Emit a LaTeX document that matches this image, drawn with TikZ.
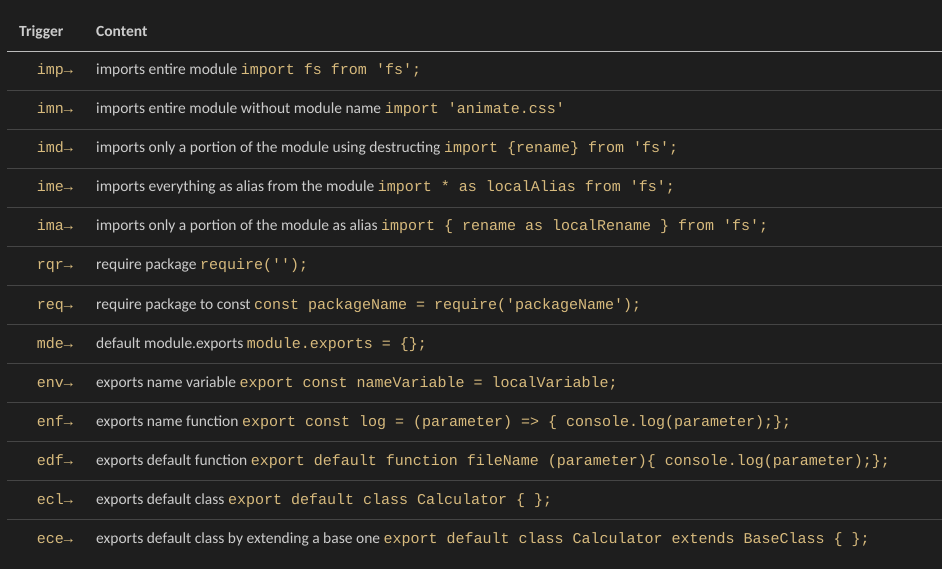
\documentclass[tikz,border=0pt]{standalone}
\usepackage{fontspec}
\setmainfont{Carlito}
\setmonofont{Liberation Mono}
\definecolor{bg}{HTML}{1E1E1E}
\definecolor{txt}{HTML}{CCCCCC}
\definecolor{code}{HTML}{D7BA7D}
\definecolor{sep}{HTML}{454545}
\definecolor{hdr}{HTML}{BBBBBB}
\newcommand{\cd}[1]{{\ttfamily\fontsize{15}{15}\selectfont\color{code}#1}}
\begin{document}
\begin{tikzpicture}[x=1pt,y=1pt,
  trig/.style={anchor=base east,inner sep=0pt,text=code,font=\ttfamily\fontsize{15}{15}\selectfont},
  cont/.style={anchor=base west,inner sep=0pt,text=txt,font=\fontsize{15.5}{16}\selectfont},
  head/.style={anchor=base west,inner sep=0pt,text=txt,font=\bfseries\fontsize{15.5}{16}\selectfont}]
\fill[bg] (0,0) rectangle (942,-569);
\useasboundingbox (0,0) rectangle (942,-569);
\node[head] (h1) at (19,-37) {Trigger};
\node[head] (h2) at (96,-37) {Content};
\draw[hdr,line width=1pt] (7,-51.5) -- (942,-51.5);
\foreach \i in {1,...,12} \draw[sep,line width=1pt] (7,{-90.5-39*(\i-1)}) -- (942,{-90.5-39*(\i-1)});
\foreach \t/\c [count=\i] in {
 imp/{imports entire module \cd{import fs from 'fs';}},
 imn/{imports entire module without module name \cd{import 'animate.css'}},
 imd/{imports only a portion of the module using destructing \cd{import \{rename\} from 'fs';}},
 ime/{imports everything as alias from the module \cd{import * as localAlias from 'fs';}},
 ima/{imports only a portion of the module as alias \cd{import \{ rename as localRename \} from 'fs';}},
 rqr/{require package \cd{require('');}},
 req/{require package to const \cd{const packageName = require('packageName');}},
 mde/{default module.exports \cd{module.exports = \{\};}},
 env/{exports name variable \cd{export const nameVariable = localVariable;}},
 enf/{exports name function \cd{export const log = (parameter) => \{ console.log(parameter);\};}},
 edf/{exports default function \cd{export default function fileName (parameter)\{ console.log(parameter);\};}},
 ecl/{exports default class \cd{export default class Calculator \{ \};}},
 ece/{exports default class by extending a base one \cd{export default class Calculator extends BaseClass \{ \};}}}
{
 \node[trig] (t\i) at (73,{-75-39*(\i-1)}) {\t→};
 \node[cont] (c\i) at (96,{-75-39*(\i-1)}) {\c};
}
\end{tikzpicture}
\end{document}
